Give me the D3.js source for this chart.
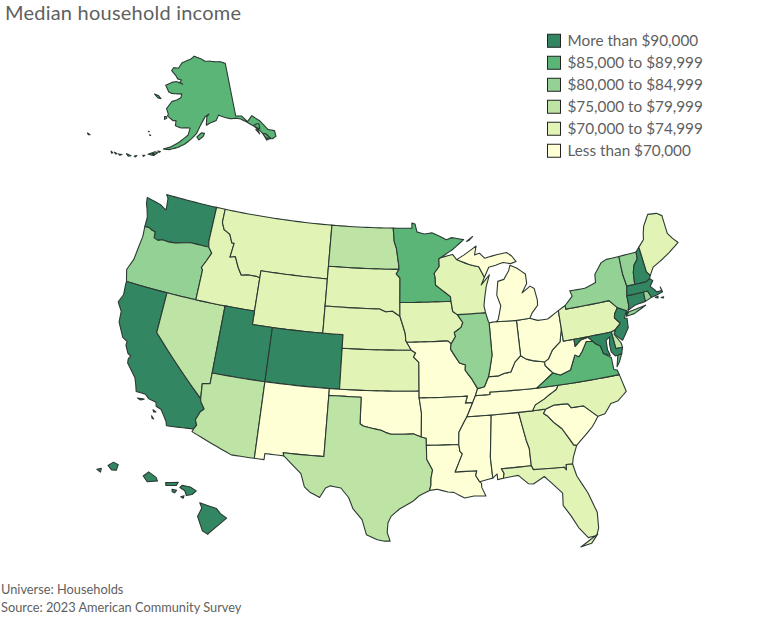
<!DOCTYPE html>
<html>
<head>
<meta charset="utf-8">
<script src="https://cdn.jsdelivr.net/npm/d3@7"></script>
<style>
  html, body { margin: 0; background: #fff; }
  text { font-family: Lato, sans-serif; fill: #5f5f5f; }
  .state { stroke: #2b3a33; stroke-width: 1.1; stroke-linejoin: round; }
</style>
</head>
<body>
<div id="map"></div>
<script>
const legendLabels = ["More than $90,000", "$85,000 to $89,999", "$80,000 to $84,999",
  "$75,000 to $79,999", "$70,000 to $74,999", "Less than $70,000"];
const legendColors = ["#338662", "#5ab576", "#93d194", "#bde4a5", "#e1f3b5", "#ffffd6"];

const stateNames = ["WA","OR","CA","NV","ID","MT","WY","UT","CO","AZ","NM","ND","SD","NE","KS","OK","TX",
  "MN","IA","MO","AR","LA","MS","AL","GA","FL","SC","NC","TN","KY","VA","WV","OH","IN","IL","WI","MI",
  "PA","NY","NJ","DE","MD","CT","RI","MA","VT","NH","ME","AK","HI"];
// index into legendLabels for every state, same order as stateNames
const stateBins = [0,2,0,3,4,4,4,0,0,3,5,3,4,4,4,5,3,
  1,4,5,5,5,5,5,4,4,5,4,5,5,1,5,5,5,2,4,5,
  4,2,0,3,0,0,2,0,2,0,4,1,0];

// outlines, [lon, lat]
const WA = [[[-124.73,48.38],[-123.1,48.15],[-122.6,47.95],[-122.35,47.9],[-122.5,48.75],[-122.76,49],[-117.03,49],[-117.04,46.42],[-116.92,45.995],[-118.98,46],[-119.3,45.93],[-120.5,45.7],[-121.2,45.65],[-121.9,45.68],[-122.3,45.55],[-122.76,45.65],[-122.85,46.1],[-123.2,46.15],[-123.55,46.26],[-124.05,46.27],[-124.07,46.7],[-124.1,47],[-124.4,47.6],[-124.6,47.9]]];
const OR = [[[-124.05,46.27],[-123.55,46.26],[-123.2,46.15],[-122.85,46.1],[-122.76,45.65],[-122.3,45.55],[-121.9,45.68],[-121.2,45.65],[-120.5,45.7],[-119.3,45.93],[-118.98,46],[-116.92,45.995],[-116.47,45.6],[-116.85,44.95],[-117.2,44.4],[-117.03,44.25],[-117.03,42],[-124.21,42],[-124.55,42.84],[-124.15,43.7],[-124.05,44.7],[-123.95,45.5]]];
const CA = [[[-124.21,42],[-120,42],[-120,39],[-114.63,35],[-114.57,34.8],[-114.14,34.3],[-114.43,34.05],[-114.72,33.4],[-114.52,33.03],[-114.72,32.72],[-117.12,32.53],[-117.25,32.85],[-117.9,33.6],[-118.4,33.75],[-118.5,34.03],[-119.2,34.15],[-119.6,34.42],[-120.47,34.45],[-120.65,34.9],[-120.9,35.4],[-121.9,36.3],[-121.95,36.6],[-121.8,36.85],[-122.1,36.96],[-122.5,37.5],[-122.5,37.8],[-123,38],[-123.75,39],[-123.85,39.8],[-124.4,40.4],[-124.1,41],[-124.2,41.75]],
  [[-120.2,34],[-119.6,34.05],[-119.9,33.92]],[[-118.6,33.45],[-118.3,33.35],[-118.5,33.3]],[[-118.6,33],[-118.35,32.8],[-118.5,32.82]]];
const NV = [[[-120,42],[-114.04,42],[-114.04,36.2],[-114.75,36.1],[-114.63,35],[-120,39]]];
const ID = [[[-117.03,49],[-116.05,49],[-116.05,48],[-115.7,47.5],[-115,47.25],[-114.6,46.65],[-114.35,46.65],[-114.5,45.6],[-113.95,45.7],[-113.45,44.95],[-113,44.45],[-112.3,44.55],[-111.5,44.55],[-111.05,44.47],[-111.05,42],[-117.03,42],[-117.03,44.25],[-117.2,44.4],[-116.85,44.95],[-116.47,45.6],[-116.92,45.995],[-117.04,46.42]]];
const MT = [[[-116.05,49],[-104.05,49],[-104.05,45],[-111.05,45],[-111.05,44.47],[-111.5,44.55],[-112.3,44.55],[-113,44.45],[-113.45,44.95],[-113.95,45.7],[-114.5,45.6],[-114.35,46.65],[-114.6,46.65],[-115,47.25],[-115.7,47.5],[-116.05,48]]];
const WY = [[[-111.05,45],[-104.05,45],[-104.05,41],[-111.05,41]]];
const UT = [[[-114.04,42],[-111.05,42],[-111.05,41],[-109.05,41],[-109.05,37],[-114.04,37]]];
const CO = [[[-109.05,41],[-102.05,41],[-102.05,37],[-109.05,37]]];
const AZ = [[[-114.04,37],[-109.05,37],[-109.05,31.33],[-111.07,31.33],[-114.81,32.5],[-114.72,32.72],[-114.52,33.03],[-114.72,33.4],[-114.43,34.05],[-114.14,34.3],[-114.57,34.8],[-114.63,35],[-114.75,36.1],[-114.04,36.2]]];
const NM = [[[-109.05,37],[-103,37],[-103.04,32],[-106.62,32],[-106.53,31.78],[-108.2,31.78],[-108.2,31.33],[-109.05,31.33]]];
const ND = [[[-104.05,49],[-97.23,49],[-97.1,48],[-96.85,47.5],[-96.6,46.3],[-96.56,45.94],[-104.05,45.94]]];
const SD = [[[-104.05,45.94],[-96.56,45.94],[-96.85,45.6],[-96.45,45.3],[-96.45,43.5],[-96.44,42.49],[-96.7,42.6],[-97.2,42.85],[-97.9,42.8],[-98.5,43],[-104.05,43]]];
const NE = [[[-104.05,43],[-98.5,43],[-97.9,42.8],[-97.2,42.85],[-96.7,42.6],[-96.44,42.49],[-96.1,41.7],[-95.9,41.2],[-95.85,40.7],[-95.31,40],[-102.05,40],[-102.05,41],[-104.05,41]]];
const KS = [[[-102.05,40],[-95.31,40],[-94.9,39.8],[-95.1,39.5],[-94.6,39.1],[-94.62,37],[-102.05,37]]];
const OK = [[[-103,37],[-94.62,37],[-94.62,36.5],[-94.43,35.4],[-94.48,33.64],[-95.2,33.88],[-96,33.85],[-96.6,33.85],[-97.2,33.85],[-97.7,33.98],[-98.1,34.13],[-99.2,34.3],[-99.7,34.4],[-100,34.56],[-100,36.5],[-103,36.5]]];
const TX = [[[-103,36.5],[-100,36.5],[-100,34.56],[-99.7,34.4],[-99.2,34.3],[-98.1,34.13],[-97.7,33.98],[-97.2,33.85],[-96.6,33.85],[-96,33.85],[-95.2,33.88],[-94.48,33.64],[-94.04,33.55],[-94.04,33.02],[-94.04,32],[-93.55,31.2],[-93.7,30.6],[-93.72,30.1],[-93.85,29.7],[-94.7,29.35],[-95.3,28.9],[-96.4,28.35],[-97.1,27.8],[-97.35,27.3],[-97.4,26.6],[-97.15,25.96],[-97.6,25.95],[-98.2,26.05],[-99.1,26.4],[-99.5,27.5],[-100.3,28.3],[-100.7,29.1],[-101.4,29.77],[-102.3,29.88],[-102.7,29.7],[-103.15,28.97],[-104,29.3],[-104.5,29.65],[-104.9,30.6],[-106,31.4],[-106.53,31.78],[-106.62,32],[-103.04,32]]];
const MN = [[[-97.23,49],[-95.15,49],[-95.15,49.38],[-94.8,49.3],[-94.6,48.72],[-93.8,48.55],[-92.95,48.62],[-92,48.3],[-91.4,48.07],[-90.8,48.2],[-89.5,48],[-90.8,47.3],[-92.1,46.75],[-92.29,46.66],[-92.29,46.1],[-92.85,45.6],[-92.75,45.3],[-92.75,44.75],[-91.25,43.85],[-91.22,43.5],[-96.45,43.5],[-96.45,45.3],[-96.85,45.6],[-96.56,45.94],[-96.6,46.3],[-96.85,47.5],[-97.1,48]]];
const IA = [[[-96.45,43.5],[-91.22,43.5],[-91.1,42.75],[-90.65,42.5],[-90.15,41.9],[-90.35,41.55],[-91.05,41.2],[-90.95,40.9],[-91.42,40.38],[-91.73,40.61],[-95.77,40.58],[-95.85,40.7],[-95.9,41.2],[-96.1,41.7],[-96.44,42.49]]];
const MO = [[[-95.77,40.58],[-91.73,40.61],[-91.42,40.38],[-91.5,40],[-90.7,38.95],[-90.15,38.8],[-90.2,38.4],[-89.6,37.7],[-89.15,37],[-89.4,36.5],[-89.7,36],[-90.37,36],[-90.15,36.5],[-94.62,36.5],[-94.62,37],[-94.6,39.1],[-95.1,39.5],[-94.9,39.8],[-95.31,40]]];
const AR = [[[-94.62,36.5],[-90.15,36.5],[-90.37,36],[-89.7,36],[-90.3,35],[-90.6,34.6],[-91.1,33.9],[-91.17,33],[-94.04,33.02],[-94.04,33.55],[-94.48,33.64],[-94.43,35.4]]];
const LA = [[[-94.04,33.02],[-91.17,33],[-91.1,32.5],[-90.9,32.3],[-91.6,31],[-89.73,31],[-89.85,30.65],[-89.55,30.18],[-89.4,30.05],[-89.4,29.75],[-89.1,29.1],[-90.1,29.15],[-90.9,29.05],[-91.8,29.5],[-92.3,29.55],[-93.2,29.77],[-93.85,29.7],[-93.72,30.1],[-93.7,30.6],[-93.55,31.2],[-94.04,32]]];
const MS = [[[-91.17,33],[-91.1,33.9],[-90.6,34.6],[-90.3,35],[-88.2,35],[-88.1,34.9],[-88.47,31.9],[-88.4,30.37],[-89.55,30.18],[-89.85,30.65],[-89.73,31],[-91.6,31],[-90.9,32.3],[-91.1,32.5]]];
const AL = [[[-88.2,35],[-85.6,35],[-85.18,32.87],[-85,32.3],[-85,31],[-87.6,31],[-87.4,30.65],[-87.5,30.3],[-88,30.23],[-88,30.65],[-88.4,30.37],[-88.47,31.9],[-88.1,34.9]]];
const GA = [[[-85.6,35],[-83.1,35],[-83.35,34.7],[-83,34.45],[-82.55,33.95],[-81.9,33.4],[-81.4,32.6],[-81.1,32.1],[-80.85,32.03],[-81.3,31.2],[-81.45,30.72],[-82,30.75],[-82.05,30.36],[-82.2,30.57],[-84.86,30.7],[-85,31],[-85,32.3],[-85.18,32.87]]];
const FL = [[[-87.6,31],[-85,31],[-84.86,30.7],[-82.2,30.57],[-82.05,30.36],[-82,30.75],[-81.45,30.72],[-81.25,29.8],[-80.55,28.45],[-80.05,26.9],[-80.15,25.75],[-80.4,25.2],[-81.1,25.15],[-81.75,26],[-82.2,26.9],[-82.75,27.8],[-82.65,28.7],[-83.4,29.5],[-84,30.1],[-85,29.65],[-85.4,29.7],[-86.2,30.4],[-87.5,30.3],[-87.4,30.65]],
  [[-80.3,25.3],[-81,24.95],[-81.8,24.55],[-80.9,24.7]]];
const SC = [[[-83.1,35],[-82.3,35.2],[-81.05,35.15],[-80.8,34.82],[-79.67,34.8],[-78.55,33.86],[-79.2,33.2],[-79.9,32.7],[-80.85,32.03],[-81.1,32.1],[-81.4,32.6],[-81.9,33.4],[-82.55,33.95],[-83,34.45],[-83.35,34.7]]];
const NC = [[[-84.32,34.99],[-83.1,35],[-82.3,35.2],[-81.05,35.15],[-80.8,34.82],[-79.67,34.8],[-78.55,33.86],[-77.9,33.95],[-77.2,34.6],[-76.5,34.7],[-75.6,35.25],[-75.9,36.55],[-81.68,36.59],[-81.9,36.3],[-82.6,36],[-83.1,35.75],[-84,35.4]]];
const TN = [[[-90.3,35],[-89.7,36],[-89.4,36.5],[-88.05,36.5],[-88.05,36.68],[-83.67,36.6],[-81.68,36.59],[-81.9,36.3],[-82.6,36],[-83.1,35.75],[-84,35.4],[-84.32,34.99],[-85.6,35],[-88.2,35]]];
const KY = [[[-89.4,36.5],[-89.15,37],[-88.5,37.1],[-88.05,37.8],[-87.1,37.8],[-86.5,37.95],[-85.9,38],[-85.4,38.7],[-84.8,39.1],[-84.3,38.8],[-83.7,38.63],[-82.6,38.42],[-82.6,38.15],[-81.97,37.54],[-83.67,36.6],[-88.05,36.68],[-88.05,36.5]]];
const VA = [[[-83.67,36.6],[-81.68,36.59],[-75.9,36.55],[-76,36.9],[-76.3,37],[-76.3,37.55],[-76.3,37.9],[-76.95,38.3],[-77.05,38.7],[-77.1,38.88],[-77.5,39.1],[-77.72,39.32],[-78.35,39.4],[-78.9,38.75],[-79.3,38.4],[-79.65,38.58],[-80.3,37.55],[-81.3,37.3],[-81.97,37.54]],
  [[-75.25,38.03],[-75.65,37.95],[-75.95,37.15],[-75.6,37.5]]];
const WV = [[[-81.97,37.54],[-81.3,37.3],[-80.3,37.55],[-79.65,38.58],[-79.3,38.4],[-78.9,38.75],[-78.35,39.4],[-77.72,39.32],[-78.1,39.68],[-78.8,39.6],[-79.48,39.2],[-79.48,39.72],[-80.52,39.72],[-80.52,40.64],[-80.85,39.7],[-81.7,39.2],[-82.2,38.6],[-82.6,38.42],[-82.6,38.15]]];
const OH = [[[-84.8,41.7],[-83.45,41.73],[-82.7,41.5],[-81.7,41.5],[-80.52,41.98],[-80.52,40.64],[-80.85,39.7],[-81.7,39.2],[-82.2,38.6],[-82.6,38.42],[-83.7,38.63],[-84.3,38.8],[-84.8,39.1]]];
const IN = [[[-87.53,41.72],[-87.2,41.76],[-86.82,41.76],[-84.8,41.7],[-84.8,39.1],[-85.4,38.7],[-85.9,38],[-86.5,37.95],[-87.1,37.8],[-88.05,37.8],[-87.9,38.2],[-87.53,39.35]]];
const IL = [[[-90.65,42.5],[-87.8,42.5],[-87.6,41.85],[-87.53,41.72],[-87.53,39.35],[-87.9,38.2],[-88.05,37.8],[-88.5,37.1],[-89.15,37],[-89.6,37.7],[-90.2,38.4],[-90.15,38.8],[-90.7,38.95],[-91.5,40],[-91.42,40.38],[-90.95,40.9],[-91.05,41.2],[-90.35,41.55],[-90.15,41.9]]];
const WI = [[[-92.1,46.75],[-90.8,46.95],[-90.4,46.55],[-89.1,46.13],[-88.1,45.9],[-87.6,45.1],[-88,44.55],[-87.05,45.25],[-87.5,44.4],[-87.75,43.6],[-87.9,43],[-87.8,42.5],[-90.65,42.5],[-91.1,42.75],[-91.22,43.5],[-91.25,43.85],[-92.75,44.75],[-92.75,45.3],[-92.85,45.6],[-92.29,46.1],[-92.29,46.66]]];
const MI = [[[-86.82,41.76],[-84.8,41.7],[-83.45,41.73],[-83.15,42.1],[-82.5,42.6],[-82.45,43],[-82.6,43.85],[-83,44.07],[-83.9,43.65],[-83.3,44.3],[-83.3,45],[-84.1,45.5],[-84.8,45.78],[-85,45.4],[-85.6,44.8],[-86.25,44.7],[-86.5,43.7],[-86.2,42.9],[-86.6,41.9]],
  [[-90.4,46.55],[-89.1,46.13],[-88.1,45.9],[-87.6,45.1],[-87.05,45.8],[-86.3,45.9],[-85.5,46.05],[-84.75,45.9],[-84.1,46],[-84.5,46.45],[-85,46.75],[-86.1,46.67],[-87.4,46.5],[-87.9,46.9],[-88.45,46.8],[-88.2,47.45],[-89.6,46.85]],
  [[-89.2,47.85],[-88.5,48.18],[-88.95,47.9]]];
const PA = [[[-80.52,41.98],[-79.76,42.27],[-79.76,42],[-75.35,42],[-75.05,41.7],[-74.7,41.36],[-75.1,40.95],[-75.2,40.68],[-74.75,40.2],[-75.4,39.8],[-75.8,39.72],[-79.48,39.72],[-80.52,39.72],[-80.52,40.64]]];
const NY = [[[-79.76,42.27],[-78.9,42.85],[-79.05,43.27],[-77.5,43.25],[-76.3,43.5],[-76.2,44.1],[-75.3,44.85],[-74.7,45],[-73.35,45],[-73.4,44],[-73.4,43.6],[-73.28,42.75],[-73.5,42.05],[-73.55,41.3],[-73.7,41],[-74,40.7],[-73.9,41],[-74.7,41.36],[-75.05,41.7],[-75.35,42],[-79.76,42]],
  [[-74.03,40.6],[-73.2,40.65],[-71.9,41.05],[-72.6,40.98],[-73.7,40.87]]];
const NJ = [[[-74.7,41.36],[-73.9,41],[-74.25,40.5],[-74,40.45],[-74.1,39.75],[-74.9,38.95],[-75.55,39.5],[-75.4,39.8],[-74.75,40.2],[-75.2,40.68],[-75.1,40.95]]];
const DE = [[[-75.8,39.72],[-75.4,39.8],[-75.55,39.5],[-75.1,38.8],[-75.05,38.45],[-75.7,38.46]]];
const MD = [[[-79.48,39.72],[-75.8,39.72],[-75.7,38.46],[-75.05,38.45],[-75.25,38.03],[-75.65,37.95],[-75.9,37.95],[-76.2,38.3],[-76.2,38.9],[-76.05,39.4],[-76.45,39.2],[-76.5,38.5],[-76.35,38.05],[-76.95,38.3],[-77.05,38.7],[-77.1,38.88],[-77.5,39.1],[-77.72,39.32],[-78.1,39.68],[-78.8,39.6],[-79.48,39.2]]];
const CT = [[[-73.5,42.05],[-71.8,42.02],[-71.85,41.32],[-72.9,41.25],[-73.7,41],[-73.55,41.3]]];
const RI = [[[-71.8,42.02],[-71.38,42.02],[-71.15,41.5],[-71.85,41.32]]];
const MA = [[[-73.5,42.05],[-73.28,42.75],[-72.46,42.73],[-71.3,42.7],[-70.85,42.87],[-70.6,42.65],[-71,42.3],[-70.65,41.95],[-70.5,41.78],[-70,41.78],[-70.05,42.05],[-69.95,41.68],[-70.65,41.55],[-71.15,41.5],[-71.38,42.02],[-71.8,42.02]],
  [[-70.8,41.42],[-70.5,41.45],[-70.55,41.33]],[[-70.25,41.3],[-69.98,41.3],[-70.05,41.22]]];
const VT = [[[-73.35,45],[-71.5,45],[-71.55,44.5],[-72.05,44.1],[-72.3,43.6],[-72.46,42.73],[-73.28,42.75],[-73.4,43.6],[-73.4,44]]];
const NH = [[[-71.5,45],[-71.08,45.3],[-70.98,43.4],[-70.7,43.07],[-70.85,42.87],[-71.3,42.7],[-72.46,42.73],[-72.3,43.6],[-72.05,44.1],[-71.55,44.5]]];
const ME = [[[-71.08,45.3],[-70.4,45.75],[-70.25,46.2],[-70,46.7],[-69.23,47.46],[-68.3,47.35],[-67.8,47.07],[-67.8,45.7],[-67.45,45.25],[-67,44.82],[-68.2,44.3],[-69,44],[-70.2,43.6],[-70.7,43.07],[-70.98,43.4]]];
const AK = [[[-141,69.65],[-143.5,70.1],[-146,70.2],[-148.5,70.4],[-151,70.45],[-153,70.9],[-156.6,71.35],[-158,70.85],[-160,70.5],[-162.5,70],[-163.8,69],[-166.2,68.9],[-166.8,68.35],[-164.5,67.6],[-163.5,67.1],[-161.7,67],[-162.5,66.5],[-161,66.3],[-163.7,66.6],[-165.5,66.4],[-168.1,65.65],[-166.3,64.6],[-165,64.45],[-162.8,64.5],[-161,64.6],[-161.2,63.9],[-162.5,63.5],[-164.5,63.05],[-165.1,62.5],[-166,61.7],[-165,60.8],[-165.2,60.5],[-163,59.8],[-162,59.9],[-162,59],[-160,58.7],[-158.5,58.8],[-157,58.8],[-157.5,57.6],[-158.7,57],[-160.5,56.1],[-162.8,55.2],[-164.8,54.7],[-163,54.75],[-160.5,55.3],[-158.5,55.95],[-156.5,56.9],[-154.8,57.9],[-153.5,59.3],[-152.5,60.2],[-151.8,60.8],[-150.4,61.2],[-151.2,60.8],[-151.5,59.3],[-150,59.7],[-148,60],[-147,60.9],[-145,60.4],[-143,60],[-141,59.9],[-139.5,59.6],[-138,59],[-136.5,58.2],[-135,57.5],[-134,56.5],[-133.2,55.3],[-131.5,54.8],[-130.2,55],[-130,56],[-131.8,56.6],[-133.4,58.4],[-135.5,59.7],[-137.5,58.9],[-139,60.1],[-141,60.3]],
  [[-154.7,57.3],[-153.2,58],[-152.2,57.9],[-152.6,57.4],[-154,56.8]],
  [[-166.2,60.3],[-165.6,60.35],[-165.3,60.1],[-166,59.8]],
  [[-171.7,63.7],[-170,63.6],[-168.8,63.2],[-170,63.2]],
  [[-170.4,57.2],[-170.1,57.2],[-170.2,57.1]],[[-169.8,56.65],[-169.4,56.6],[-169.6,56.55]],
  [[-134.6,58.1],[-134,58],[-134.2,57.2],[-135.2,57.4],[-136,58]],[[-135.5,57.2],[-135,57.3],[-134.7,56.3]],
  [[-133.8,56.2],[-132.9,56],[-131.9,55],[-133.2,54.9]],
  [[-168.9,53.3],[-167,54],[-166.2,53.9],[-167.2,53.3]],[[-167.9,53.6],[-166.9,53.6],[-167.3,53.4]],[[-166.3,54.2],[-165.5,54.2],[-165.8,54]],[[-170.3,52.9],[-169.7,53],[-170,52.75]],[[-172.6,52.4],[-171.9,52.6],[-172.2,52.3]],[[-174.9,52.4],[-173.5,52.3],[-174.2,52.05]],[[-177,51.9],[-176,52],[-176.5,51.75]],[[-178.2,51.95],[-177.4,51.85],[-177.8,51.7]],[[-179.2,51.9],[-178.6,51.75],[-178.9,51.6]],
  [[172.5,53],[173.4,52.95],[173,52.8]]];
const HI = [[[-155.9,20.25],[-155.2,19.95],[-155.05,19.73],[-154.8,19.52],[-155.6,19],[-155.68,18.93],[-155.9,19.1],[-156.05,19.7],[-155.83,20.03]],
  [[-156.7,20.95],[-156.6,21.03],[-156.25,20.93],[-156,20.75],[-156.2,20.62],[-156.45,20.6],[-156.5,20.8]],
  [[-157.3,21.2],[-156.75,21.17],[-156.85,21.05],[-157.3,21.08]],
  [[-157.05,20.9],[-156.85,20.85],[-156.95,20.75],[-157.05,20.8]],
  [[-156.7,20.57],[-156.55,20.6],[-156.6,20.5]],
  [[-158.25,21.55],[-158,21.7],[-157.7,21.45],[-157.65,21.3],[-158.1,21.3]],
  [[-159.75,22.1],[-159.5,22.22],[-159.3,22.1],[-159.4,21.88],[-159.6,21.9]],
  [[-160.25,21.98],[-160.05,22],[-160.1,21.85]]];

const stateShapes = [WA,OR,CA,NV,ID,MT,WY,UT,CO,AZ,NM,ND,SD,NE,KS,OK,TX,MN,IA,MO,AR,LA,MS,AL,GA,FL,SC,NC,TN,KY,VA,WV,OH,IN,IL,WI,MI,PA,NY,NJ,DE,MD,CT,RI,MA,VT,NH,ME,AK,HI];

const width = 770, height = 618;

const svg = d3.select("#map").append("svg")
  .attr("width", width)
  .attr("height", height)
  .style("display", "block");

const lower48 = d3.geoAlbers().scale(776).translate([398, 368]);
const alaska = d3.geoConicEqualArea().rotate([154, 0]).center([0, 63]).parallels([55, 65]).scale(330).translate([199, 104]);
const hawaii = d3.geoConicEqualArea().rotate([157, 0]).center([0, 20.5]).parallels([8, 18]).angle(5).scale(1400).translate([174, 499]);

const color = d3.scaleOrdinal().domain(legendLabels).range(legendColors);

// long straight edges have to follow the parallels, so add points along them
function densify(ring) {
  const out = [];
  ring.forEach((p, i) => {
    const q = ring[(i + 1) % ring.length];
    const n = Math.max(1, Math.ceil(Math.abs(q[0] - p[0]) / 0.5));
    for (let k = 0; k < n; k++) out.push([p[0] + (q[0] - p[0]) * k / n, p[1] + (q[1] - p[1]) * k / n]);
  });
  out.push(out[0]);
  return d3.polygonArea(out) < 0 ? out.reverse() : out;
}

const features = stateNames.map((name, i) => ({
  type: "Feature",
  properties: { name: name, bin: legendLabels[stateBins[i]] },
  geometry: { type: "MultiPolygon", coordinates: stateShapes[i].map(r => [densify(r)]) }
}));

const paths = {
  AK: d3.geoPath(alaska),
  HI: d3.geoPath(hawaii),
  other: d3.geoPath(lower48)
};

svg.append("g").selectAll("path")
  .data(features)
  .enter().append("path")
    .attr("class", "state")
    .attr("fill", d => color(d.properties.bin))
    .attr("d", d => (paths[d.properties.name] || paths.other)(d));

svg.append("text")
  .attr("x", 5).attr("y", 20)
  .style("font-size", "20px")
  .style("letter-spacing", "0.22px")
  .text("Median household income");

const legendY = d3.scalePoint().domain(legendLabels).range([40.75, 150.75]);

const legend = svg.append("g").selectAll("g")
  .data(legendLabels)
  .enter().append("g")
    .attr("transform", d => `translate(547.5,${legendY(d)})`);

legend.append("rect")
  .attr("x", 0).attr("y", -6.5)
  .attr("width", 13).attr("height", 13)
  .attr("fill", d => color(d))
  .attr("stroke", "#222");

legend.append("text")
  .attr("x", 20).attr("y", 5.2)
  .style("font-size", "15.3px")
  .text(d => d);

svg.append("text").attr("x", 1).attr("y", 594).style("font-size", "12.8px").text("Universe: Households");
svg.append("text").attr("x", 1).attr("y", 612).style("font-size", "12.8px").text("Source: 2023 American Community Survey");
</script>
</body>
</html>
